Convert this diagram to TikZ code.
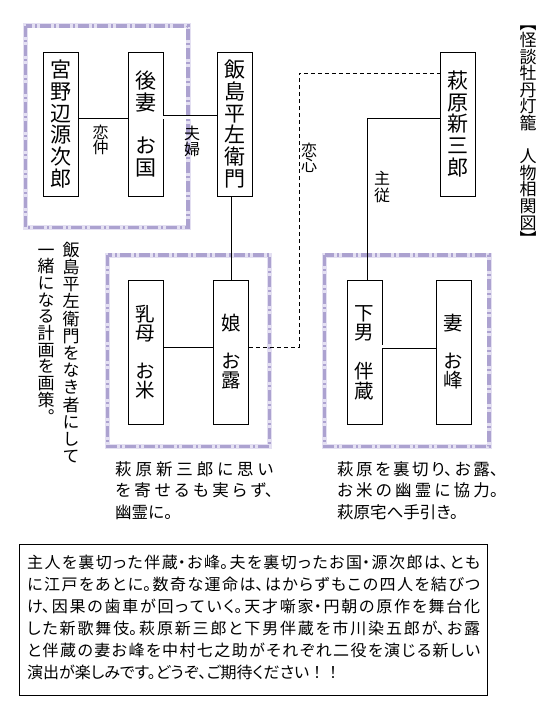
\documentclass[tikz,border=0pt]{standalone}
\usepackage{fontspec}
\newfontfamily\jpv[RawFeature=+vert]{Noto Sans CJK JP}
\newfontfamily\jph[RawFeature=+palt]{Noto Sans CJK JP}
\newfontfamily\jpf{Noto Sans CJK JP}
\definecolor{lavlight}{RGB}{228,224,242}
\definecolor{lavdark}{RGB}{172,162,208}
\makeatletter
\newcommand\vstackjp[2]{\vbox{\offinterlineskip\@tfor\vj@c:=#2\do{\vbox to #1{\vss\hbox to 1.2em{\hss\rule[-0.12em]{0pt}{1em}\vj@c\hss}\vss}}}}
\makeatother
\begin{document}
\begin{tikzpicture}[x=1pt,y=-1pt,
  frameband/.style={line width=5pt, draw=lavlight},
  framedash/.style={line width=3.5pt, draw=lavdark, dash pattern=on 11pt off 3pt on 2pt off 3pt},
  person/.style={draw, line width=0.9pt, minimum width=35pt, minimum height=144pt, inner sep=0pt},
  toprow/.style={person, font=\jpv\fontsize{21}{21}\selectfont},
  lowrow/.style={person, font=\jpv\fontsize{19.5}{19.5}\selectfont},
  rel/.style={font=\jpv\fontsize{16}{16}\selectfont, inner sep=0pt},
  vcol/.style={font=\jpv\fontsize{17}{17}\selectfont, inner sep=0pt, anchor=north},
  conn/.style={line width=0.9pt},
  dbl/.style={line width=0.8pt, double, double distance=2.4pt},
  dsh/.style={line width=0.9pt, dash pattern=on 4pt off 3pt},
  note/.style={anchor=north west, inner sep=0pt, align=justify}
]
\useasboundingbox (0,0) rectangle (549,711);
\fill[white] (0,0) rectangle (549,711);

% frames
\draw[frameband] (25.5,26) rectangle (188,227.5);
\draw[framedash] (25.5,26) rectangle (188,227.5);
\draw[frameband] (107.5,255) rectangle (269.5,446.5);
\draw[framedash] (107.5,255) rectangle (269.5,446.5);
\draw[frameband] (324.5,255) rectangle (489,446.5);
\draw[framedash] (324.5,255) rectangle (489,446.5);

% persons
\node[toprow] (genjiro) at (60.5,124) {\vstackjp{21.7pt}{宮野辺源次郎}};
\node[toprow] (okuni) at (145.5,124) {\vstackjp{21.7pt}{後妻　お国}};
\node[toprow] (heiza) at (234.5,124) {\vstackjp{21.7pt}{飯島平左衛門}};
\node[toprow] (shinza) at (457.5,124) {\vstackjp{21.7pt}{萩原新三郎}};
\node[lowrow] (oyone) at (145.5,352) {\vstackjp{19pt}{乳母　お米}};
\node[lowrow] (otsuyu) at (231,352) {\vstackjp{19pt}{娘　お露}};
\node[lowrow] (tomozo) at (364.5,352) {\vstackjp{19.5pt}{下男　伴蔵}};
\node[lowrow] (omine) at (453.5,352) {\vstackjp{19pt}{妻　お峰}};

% connectors
\draw[conn] ([yshift=6pt]genjiro.east) -- ([yshift=6pt]okuni.west);
\draw[dbl] ([yshift=6.5pt]okuni.east) -- ([yshift=6.5pt]heiza.west);
\draw[conn] (otsuyu.north |- heiza.south) -- (otsuyu.north);
\draw[conn] ([yshift=5pt]oyone.east) -- ([yshift=5pt]otsuyu.west);
\draw[dbl] ([yshift=5.5pt]tomozo.east) -- ([yshift=5.5pt]omine.west);
\coordinate (dk) at (299,73);
\draw[dsh] ([yshift=5pt]otsuyu.east) -| (dk) -- (dk -| shinza.west);
\coordinate (sk) at (367,118);
\draw[conn] ([yshift=6pt]shinza.west) -- (sk) -- (sk |- tomozo.north);

% relation labels
\node[rel] (lkoi) at (100.5,140) {\vstackjp{15.5pt}{恋仲}};
\node[rel] (lfuu) at (192,141) {\vstackjp{16pt}{夫婦}};
\node[rel] (lkoishin) at (309,158) {\vstackjp{15.5pt}{恋心}};
\node[rel] (lshu) at (382,187) {\vstackjp{17pt}{主従}};

% title
\node[vcol] (title) at (528,15) {\vstackjp{16.6pt}{【怪談牡丹灯籠　人物相関図】}};

% vertical note
\node[vcol] (vnote1) at (71,241) {\vstackjp{17.2pt}{飯島平左衛門をなき者にして}};
\node[vcol] (vnote2) at (46,241) {\vstackjp{16.7pt}{一緒になる計画を画策。}};

% notes under frames
\node[note, text width=158pt, font=\jph\fontsize{16.5}{21.5}\selectfont] (note1) at (115,461)
  {\parindent=0pt\tolerance=10000\XeTeXlinebreaklocale "ja"\XeTeXlinebreakskip=0pt plus 10pt 萩原新三郎に思い\linebreak を寄せるも実らず、\linebreak 幽霊に。};
\node[note, text width=161pt, font=\jph\fontsize{16.5}{21.5}\selectfont] (note2) at (337,461)
  {\parindent=0pt\tolerance=10000\XeTeXlinebreaklocale "ja"\XeTeXlinebreakskip=0pt plus 10pt 萩原を裏切り、お露、\linebreak お米の幽霊に協力。\linebreak 萩原宅へ手引き。};

% bottom paragraph
\node[draw, line width=0.9pt, minimum width=468pt, minimum height=151pt, anchor=north west, inner sep=0pt] (pbox) at (19,544) {};
\node[note, text width=453pt, font=\jph\fontsize{16}{22}\selectfont] (para) at (27,555)
  {\parindent=0pt\tolerance=10000\XeTeXlinebreaklocale "ja"\XeTeXlinebreakskip=0pt plus 6pt 主人を裏切った伴蔵・お峰。夫を裏切ったお国・源次郎は、とも\linebreak に江戸をあとに。数奇な運命は、はからずもこの四人を結びつ\linebreak け、因果の歯車が回っていく。天才噺家・円朝の原作を舞台化\linebreak した新歌舞伎。萩原新三郎と下男伴蔵を市川染五郎が、お露\linebreak と伴蔵の妻お峰を中村七之助がそれぞれ二役を演じる新しい\linebreak 演出が楽しみです。どうぞ、ご期待ください{\jpf ！！}};
\end{tikzpicture}
\end{document}
